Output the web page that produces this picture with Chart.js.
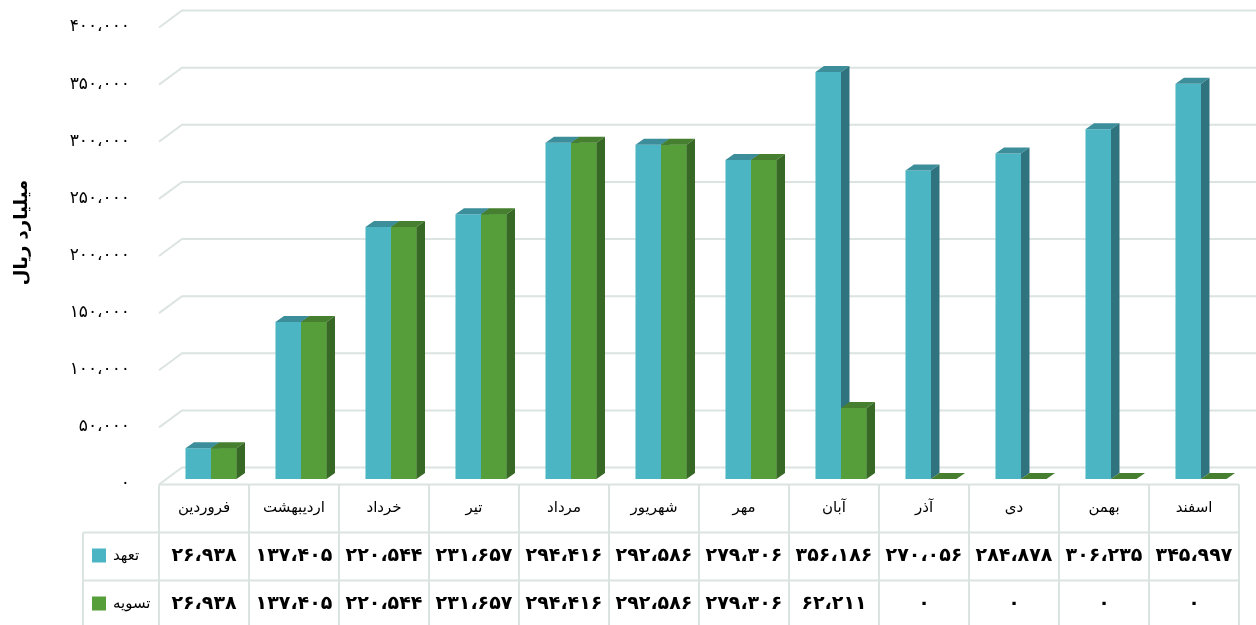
<!DOCTYPE html>
<html><head><meta charset="utf-8">
<script src="https://cdn.jsdelivr.net/npm/chart.js@4"></script>
<style>html,body{margin:0;padding:0;background:#fff;overflow:hidden}</style>
</head><body>
<canvas id="c" width="1256" height="625" style="width:1256px;height:625px;display:block"></canvas>
<script>
const months = ['فروردین','اردیبهشت','خرداد','تیر','مرداد','شهریور','مهر','آبان','آذر','دی','بهمن','اسفند'];
const commitment = [26938,137405,220544,231657,294416,292586,279306,356186,270056,284878,306235,345997];
const settlement = [26938,137405,220544,231657,294416,292586,279306,62211,0,0,0,0];
const seriesNames = ['تعهد','تسویه'];
const yTickValues = [0,50000,100000,150000,200000,250000,300000,350000,400000];
const yTitle = 'میلیارد ریال';

const FA = '۰۱۲۳۴۵۶۷۸۹';
function fa(n){ return Math.round(n).toLocaleString('en-US').replace(/,/g,'،').replace(/\d/g,d=>FA[d]); }

const COLORS = [
  {front:'#4BB5C4', top:'#3B8E9A', side:'#2E737D'},
  {front:'#559E3A', top:'#467F2F', side:'#386825'}
];
const BAR_D = {dx:8.5, dy:6};
const FRONT = {dx:-7, dy:5.5};
const BACK = {dx:16, dy:-11.5};
const GRID = '#DCE4E2';
const FONT = "'DejaVu Sans'";

function faces(ctx, bar, c){
  const {x, y, base, width} = bar.getProps(['x','y','base','width'], true);
  const xl = x - width/2, xr = x + width/2;
  ctx.fillStyle = c.top;
  ctx.beginPath(); ctx.moveTo(xl,y); ctx.lineTo(xl+BAR_D.dx,y-BAR_D.dy); ctx.lineTo(xr+BAR_D.dx,y-BAR_D.dy); ctx.lineTo(xr,y); ctx.closePath(); ctx.fill();
  ctx.fillStyle = c.side;
  ctx.beginPath(); ctx.moveTo(xr,y); ctx.lineTo(xr+BAR_D.dx,y-BAR_D.dy); ctx.lineTo(xr+BAR_D.dx,base-BAR_D.dy); ctx.lineTo(xr,base); ctx.closePath(); ctx.fill();
}

const threeD = {
  id:'threeD',
  beforeDatasetsDraw(chart){
    const {ctx, chartArea:a, scales:{y}} = chart;
    ctx.save();
    ctx.strokeStyle = GRID; ctx.lineWidth = 2;
    yTickValues.forEach(v=>{
      const py = y.getPixelForValue(v);
      ctx.beginPath();
      ctx.moveTo(a.left+FRONT.dx, py+FRONT.dy);
      ctx.lineTo(a.left+BACK.dx, py+BACK.dy);
      ctx.lineTo(chart.width, py+BACK.dy);
      ctx.stroke();
    });
    ctx.restore();
  },
  afterDatasetsDraw(chart){
    const ctx = chart.ctx;
    const m0 = chart.getDatasetMeta(0), m1 = chart.getDatasetMeta(1);
    ctx.save();
    m0.data.forEach((bar,i)=>{
      faces(ctx, bar, COLORS[0]);
      const g = m1.data[i];
      g.draw(ctx);
      faces(ctx, g, COLORS[1]);
    });
    ctx.restore();
  },
  afterDraw(chart){
    const {ctx, chartArea:a, scales:{x, y}} = chart;
    const cw = x.getPixelForValue(1) - x.getPixelForValue(0);
    const left0 = x.getPixelForValue(0) - cw/2 + FRONT.dx;
    const right0 = left0 + cw*months.length;
    const top = y.getPixelForValue(0) + FRONT.dy;
    const rowH = 48;
    const legL = 83;
    const bottom = chart.height + 2;
    ctx.save();
    ctx.strokeStyle = GRID; ctx.lineWidth = 2;
    ctx.beginPath();
    ctx.moveTo(left0, top); ctx.lineTo(right0, top);
    ctx.moveTo(legL, top+rowH); ctx.lineTo(right0, top+rowH);
    ctx.moveTo(legL, top+2*rowH); ctx.lineTo(right0, top+2*rowH);
    for(let i=0;i<=months.length;i++){ ctx.moveTo(left0+i*cw, top); ctx.lineTo(left0+i*cw, bottom); }
    ctx.moveTo(legL, top+rowH); ctx.lineTo(legL, bottom);
    ctx.stroke();
    ctx.fillStyle = '#000';
    ctx.textAlign = 'center'; ctx.textBaseline = 'middle';
    const series = [commitment, settlement];
    months.forEach((m,i)=>{
      const cx = left0 + (i+0.5)*cw;
      ctx.font = '15px ' + FONT;
      ctx.fillText(m, cx, top + rowH*0.5);
      ctx.font = 'bold 19px ' + FONT;
      series.forEach((s,k)=>{ ctx.fillText(fa(s[i]), cx, top + rowH*(1.5+k)); });
    });
    seriesNames.forEach((n,k)=>{
      const cy = top + rowH*(1.5+k);
      ctx.fillStyle = COLORS[k].front;
      ctx.fillRect(92, cy-8, 14, 14);
      ctx.fillStyle = '#000';
      ctx.textAlign = 'left';
      ctx.font = '15px ' + FONT;
      ctx.fillText(n, 113, cy);
    });
    ctx.translate(22, (a.top+a.bottom)/2 - 18);
    ctx.rotate(-Math.PI/2);
    ctx.textAlign = 'center';
    ctx.font = 'bold 18px ' + FONT;
    ctx.fillText(yTitle, 0, 0);
    ctx.restore();
  }
};

new Chart(document.getElementById('c'), {
  type:'bar',
  data:{
    labels: months,
    datasets:[
      {label:seriesNames[0], data:commitment, backgroundColor:COLORS[0].front, categoryPercentage:0.567, barPercentage:1},
      {label:seriesNames[1], data:settlement, backgroundColor:COLORS[1].front, categoryPercentage:0.567, barPercentage:1}
    ]
  },
  options:{
    responsive:false, animation:false, devicePixelRatio:1,
    layout:{padding:{left:0, right:10, top:22, bottom:146}},
    plugins:{legend:{display:false}, tooltip:{enabled:false}},
    scales:{
      x:{display:false},
      y:{
        min:0, max:400000,
        afterFit(s){ s.width = 166; s.paddingTop = 0; s.paddingBottom = 0; },
        afterBuildTicks(s){ s.ticks = yTickValues.map(v=>({value:v})); },
        grid:{display:false, drawTicks:false},
        border:{display:false},
        ticks:{padding:36, labelOffset:5, color:'#000', font:{family:'DejaVu Sans', size:17}, callback:v=>fa(v)}
      }
    }
  },
  plugins:[threeD]
});
</script>
</body></html>
